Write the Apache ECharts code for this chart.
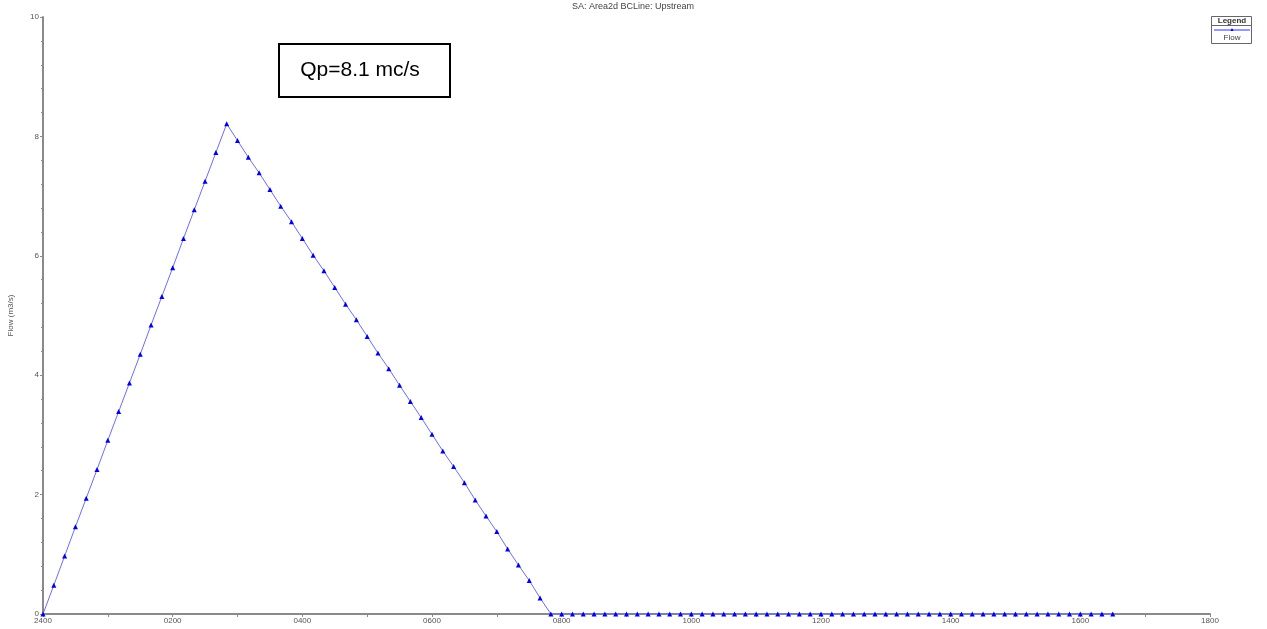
<!DOCTYPE html>
<html>
<head>
<meta charset="utf-8">
<script src="https://cdn.jsdelivr.net/npm/echarts@6/dist/echarts.min.js"></script>
<style>html,body{margin:0;padding:0;background:#fff}#c{width:1267px;height:629px}</style>
</head>
<body>
<div id="c"></div>
<script>
// Time in minutes after 2400 (10-minute steps)
const timeMin = [0,10,20,30,40,50,60,70,80,90,100,110,120,130,140,150,160,170,180,190,200,210,220,230,240,250,260,270,280,290,300,310,320,330,340,350,360,370,380,390,400,410,420,430,440,450,460,470,480,490,500,510,520,530,540,550,560,570,580,590,600,610,620,630,640,650,660,670,680,690,700,710,720,730,740,750,760,770,780,790,800,810,820,830,840,850,860,870,880,890,900,910,920,930,940,950,960,970,980,990];
// Flow (m3/s)
const flow = [0,0.48,0.97,1.46,1.94,2.42,2.91,3.39,3.87,4.35,4.84,5.32,5.80,6.29,6.77,7.25,7.73,8.21,
  7.93,7.65,7.39,7.11,6.83,6.57,6.29,6.01,5.75,5.47,5.19,4.93,4.65,4.37,4.11,3.83,3.56,3.29,3.01,2.73,2.47,2.20,1.91,1.64,1.38,1.09,0.82,0.56,0.27,0,
  0,0,0,0,0,0,0,0,0,0,0,0,0,0,0,0,0,0,0,0,0,0,0,0,0,0,0,0,0,0,0,0,0,0,0,0,0,0,0,0,0,0,0,0,0,0,0,0,0,0,0,0];
const xTickLabels = ['2400','0200','0400','0600','0800','1000','1200','1400','1600','1800'];
const titleText = 'SA: Area2d BCLine: Upstream';
const seriesName = 'Flow';
const yName = 'Flow (m3/s)';
const xName = '4May2015';
const note = 'Qp=8.1 mc/s';

const chart = echarts.init(document.getElementById('c'), null, {renderer: 'canvas'});
const data = timeMin.map((t, i) => [t, flow[i]]);
const axisCol = '#8a8a8a';
const labCol = '#555';
chart.setOption({
  animation: false,
  backgroundColor: '#fff',
  title: {
    text: titleText, left: 628, top: -3, textAlign: 'center',
    textStyle: {fontSize: 9, fontWeight: 'normal', color: '#444', fontFamily: 'Arial, Liberation Sans'}
  },
  grid: {left: 43, right: 57, top: 17, bottom: 15, containLabel: false, outerBoundsMode: 'none'},
  xAxis: {
    type: 'value', min: 0, max: 1080, interval: 120,
    name: xName, nameLocation: 'middle', nameGap: 12,
    nameTextStyle: {fontSize: 8, color: labCol, fontFamily: 'Arial, Liberation Sans', verticalAlign: 'top', padding: [4, 0, 0, 0]},
    axisLine: {lineStyle: {color: axisCol, width: 2}},
    axisTick: {show: true, length: 3, lineStyle: {color: axisCol}},
    minorTick: {show: true, splitNumber: 2, length: 3, lineStyle: {color: axisCol}},
    splitLine: {show: false},
    axisLabel: {
      fontSize: 8, color: labCol, margin: 3, fontFamily: 'Arial, Liberation Sans',
      formatter: v => xTickLabels[Math.round(v / 120)] || ''
    }
  },
  yAxis: {
    type: 'value', min: 0, max: 10, interval: 2,
    name: yName, nameLocation: 'middle', nameGap: 28, nameRotate: 90,
    nameTextStyle: {fontSize: 8, color: labCol, fontFamily: 'Arial, Liberation Sans'},
    axisLine: {show: true, lineStyle: {color: axisCol, width: 2}},
    axisTick: {show: true, length: 3, lineStyle: {color: axisCol}},
    minorTick: {show: true, splitNumber: 5, length: 2, lineStyle: {color: axisCol}},
    splitLine: {show: false},
    axisLabel: {fontSize: 8, color: labCol, margin: 4, fontFamily: 'Arial, Liberation Sans'}
  },
  series: [{
    name: seriesName, type: 'line', data: data,
    symbol: 'triangle', symbolSize: 5, showAllSymbol: true,
    lineStyle: {color: '#6b6bff', width: 1},
    itemStyle: {color: '#0000ee'},
    z: 3
  }],
  graphic: [
    {type: 'rect', shape: {x: 279, y: 44, width: 171, height: 53},
     style: {fill: '#fff', stroke: '#000', lineWidth: 2}, z: 10},
    {type: 'text', x: 360, y: 70, z: 11,
     style: {text: note, fontSize: 21, fill: '#000', fontFamily: 'Arial, Liberation Sans', align: 'center', verticalAlign: 'middle'}},
    {type: 'rect', shape: {x: 1211.5, y: 16.5, width: 40, height: 27},
     style: {fill: '#fff', stroke: '#666', lineWidth: 1}, z: 10},
    {type: 'line', shape: {x1: 1211.5, y1: 25.5, x2: 1251.5, y2: 25.5}, style: {stroke: '#666', lineWidth: 1}, z: 11},
    {type: 'text', x: 1232, y: 21, z: 11,
     style: {text: 'Legend', fontSize: 8, fontWeight: 'bold', fill: '#333', fontFamily: 'Arial, Liberation Sans', align: 'center', verticalAlign: 'middle'}},
    {type: 'line', shape: {x1: 1214, y1: 30, x2: 1250, y2: 30}, style: {stroke: '#3030ff', lineWidth: 1}, z: 11},
    {type: 'polygon', shape: {points: [[1232, 28], [1230.5, 31], [1233.5, 31]]}, style: {fill: '#0000ee'}, z: 12},
    {type: 'text', x: 1232, y: 38, z: 11,
     style: {text: seriesName, fontSize: 8, fill: '#444', fontFamily: 'Arial, Liberation Sans', align: 'center', verticalAlign: 'middle'}}
  ]
});
</script>
</body>
</html>
